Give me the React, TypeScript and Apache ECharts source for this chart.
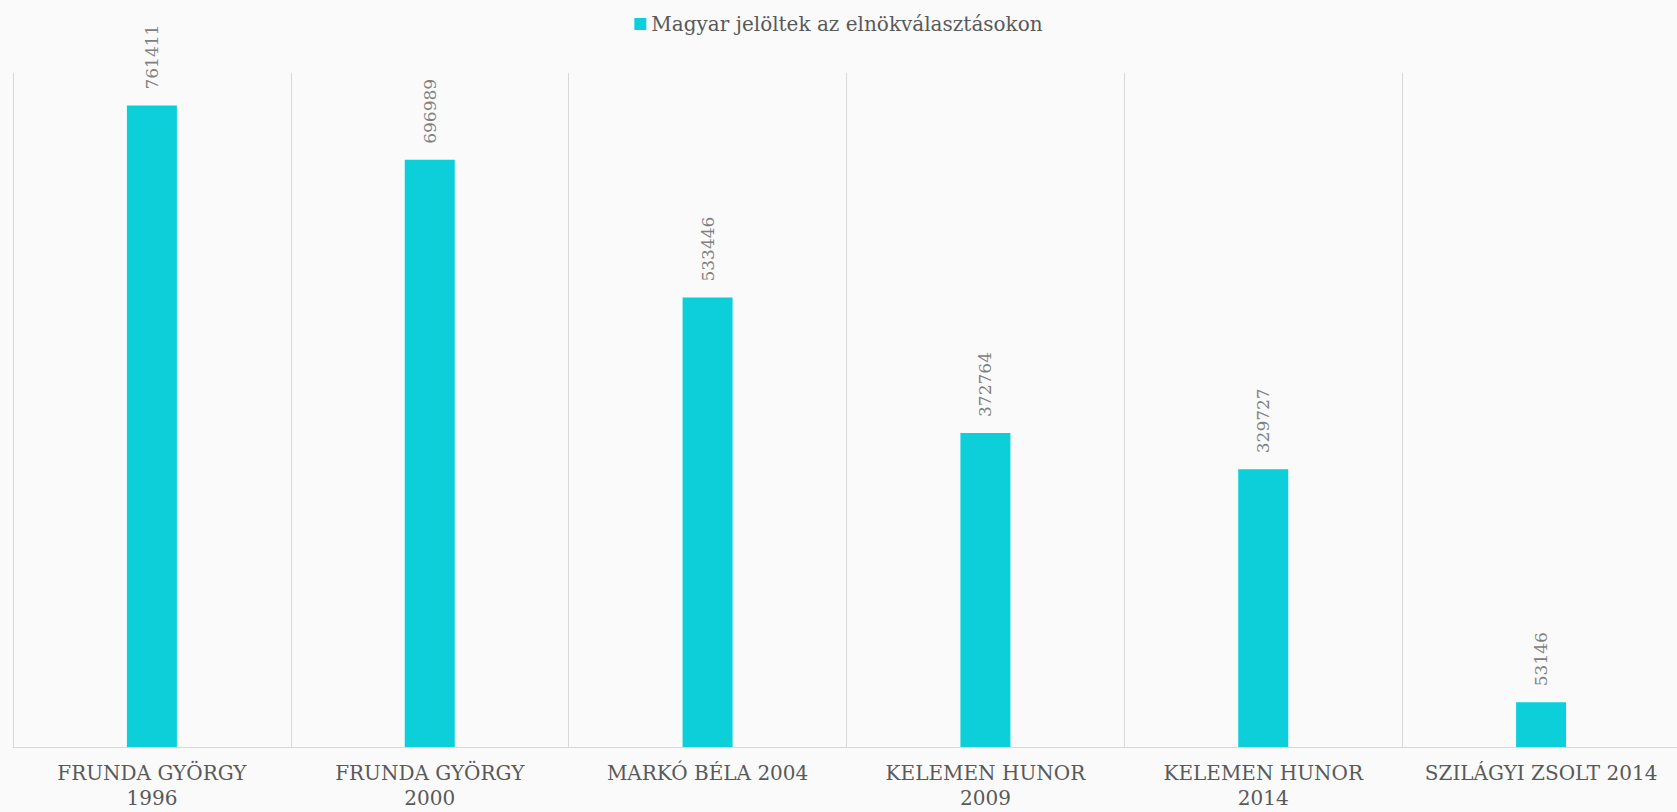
import React, { useEffect, useRef } from "react";
import * as echarts from "echarts";

const categories = [
  "FRUNDA GYÖRGY\n1996",
  "FRUNDA GYÖRGY\n2000",
  "MARKÓ BÉLA 2004",
  "KELEMEN HUNOR\n2009",
  "KELEMEN HUNOR\n2014",
  "SZILÁGYI ZSOLT 2014",
];
const values = [761411, 696989, 533446, 372764, 329727, 53146];
const seriesName = "Magyar jelöltek az elnökválasztásokon";
const yMax = 800000;

const FONT = "'DejaVu Serif', 'Liberation Serif', serif";

export default function App() {
  const ref = useRef<HTMLDivElement>(null);
  useEffect(() => {
    const chart = echarts.init(ref.current!, null, { renderer: "svg" });
    chart.setOption({
      animation: false,
      backgroundColor: "#fafafa",
      textStyle: { fontFamily: FONT },
      legend: {
        show: true,
        top: 9,
        left: "center",
        icon: "rect",
        itemWidth: 12,
        itemHeight: 12,
        itemGap: 10,
        textStyle: { fontSize: 20, color: "#595959", fontFamily: FONT },
        data: [seriesName],
      },
      grid: {
        left: 13,
        top: 73,
        width: 1667,
        height: 674,
        containLabel: false,
        outerBoundsMode: "none",
      },
      xAxis: {
        type: "category",
        data: categories,
        boundaryGap: true,
        axisLine: { show: true, lineStyle: { color: "#d9d9d9", width: 1 } },
        axisTick: { show: false },
        splitLine: { show: true, lineStyle: { color: "#d9d9d9", width: 1 } },
        axisLabel: {
          interval: 0,
          color: "#595959",
          fontSize: 20,
          lineHeight: 25,
          margin: 13,
          fontFamily: FONT,
        },
      },
      yAxis: {
        type: "value",
        min: 0,
        max: yMax,
        show: false,
        splitLine: { show: false },
      },
      series: [
        {
          name: seriesName,
          type: "bar",
          data: values,
          barWidth: 50,
          itemStyle: { color: "#0dcfd9" },
          label: {
            show: true,
            position: "top",
            rotate: 90,
            align: "left",
            verticalAlign: "middle",
            distance: 16,
            color: "#808080",
            fontSize: 17,
            fontFamily: FONT,
          },
        },
      ],
    });
    return () => chart.dispose();
  }, []);
  return (
    <div
      ref={ref}
      style={{ position: "fixed", left: 0, top: 0, width: 1677, height: 812, background: "#fafafa" }}
    />
  );
}
